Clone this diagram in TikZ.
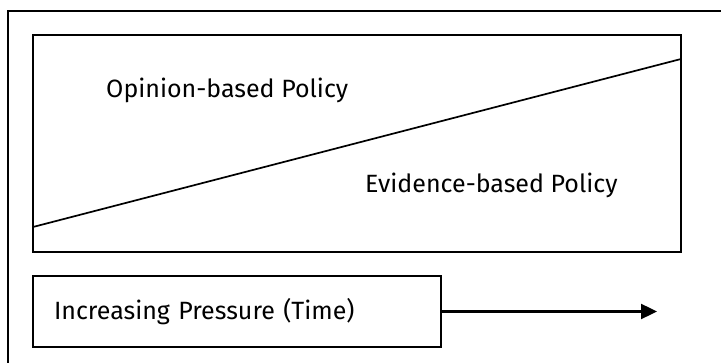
\documentclass[tikz,border=0pt]{standalone}
\usepackage{fontspec}
\setmainfont{Fira Sans}
\usetikzlibrary{positioning, arrows.meta}
\tikzset{
  frame/.style={
    draw,
    line width=1.5pt
  },
  panel/.style={
    draw,
    rectangle,
    line width=1.5pt,
    inner sep=0pt
  },
  label/.style={
    font=\fontsize{25}{30}\selectfont,
    inner sep=0pt
  },
  timearrow/.style={
    line width=2.4pt,
    -{Triangle[length=16pt,width=15pt]}
  }
}
\begin{document}
\begin{tikzpicture}[x=1pt, y=-1pt]
        \useasboundingbox (0,0) rectangle (721,363);
        % outer frame, cut off at the right and at the bottom
        \coordinate (framebot) at (8,370);
        \coordinate (framecorner) at (8,11);
        \coordinate (frameright) at (730,11);
        \draw[frame] (framebot) -- (framecorner) -- (frameright);

        % upper panel with the dividing line
        \node[panel, minimum width=648pt, minimum height=217pt] (policy) at (357,143.5) {};
        \coordinate (splitleft) at (33,227);
        \coordinate (splitright) at (681,59);
        \draw[frame, line width=1.7pt] (splitleft) -- (splitright);
        \node[label, anchor=base west] (opinion) at (106,98) {Opinion-based Policy};
        \node[label, anchor=base west] (evidence) at (365,193) {Evidence-based Policy};

        % lower box and arrow
        \node[panel, label, minimum width=408pt, minimum height=71pt,
              text width=366pt, align=left] (pressure) at (237,311.5) {Increasing Pressure (Time)};
        \coordinate (arrowend) at (657,311.5);
        \draw[timearrow] (pressure.east) -- (arrowend);
\end{tikzpicture}
\end{document}
